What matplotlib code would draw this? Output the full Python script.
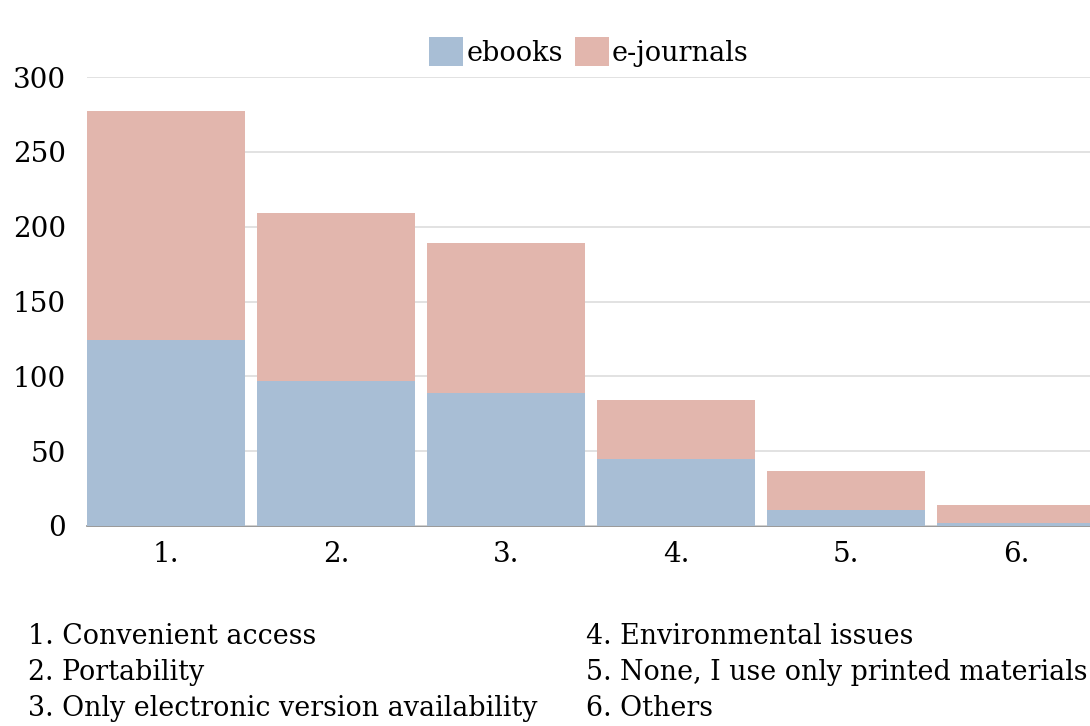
import matplotlib
matplotlib.use('Agg')
import matplotlib.pyplot as plt
import numpy as np

# values
categories = ['1.', '2.', '3.', '4.', '5.', '6.']
ebooks = [124, 97, 89, 45, 11, 2]
ejournals = [153, 112, 100, 39, 26, 12]
yticks = [0, 50, 100, 150, 200, 250, 300]
notes_left = ['1. Convenient access', '2. Portability', '3. Only electronic version availability']
notes_right = ['4. Environmental issues', '5. None, I use only printed materials', '6. Others']

blue = '#a8bed5'
pink = '#e2b6ad'

plt.rcParams['font.family'] = ['DejaVu Serif']

W, H = 1090, 726
fig = plt.figure(figsize=(W / 100, H / 100), dpi=100)
ax = fig.add_axes([87 / W, (H - 526) / H, 1014 / W, 449 / H])

x = np.arange(len(categories))
ax.bar(x, ebooks, width=0.93, color=blue, label='ebooks', zorder=2)
ax.bar(x, ejournals, width=0.93, bottom=ebooks, color=pink, label='e-journals', zorder=2)

ax.set_xlim(-0.465, 5.5)
ax.set_ylim(0, 300)
ax.set_yticks(yticks)
ax.set_xticks(x)
ax.set_xticklabels(categories)
ax.tick_params(axis='both', length=0, labelsize=20)
ax.tick_params(axis='y', pad=15)
ax.tick_params(axis='x', pad=11)
ax.yaxis.grid(True, color='#dddddd', linewidth=1.2, zorder=0)
for s in ['top', 'right', 'left']:
    ax.spines[s].set_visible(False)
ax.spines['bottom'].set_color('#888888')
ax.spines['bottom'].set_linewidth(1.2)
ax.spines['bottom'].set_zorder(1)

fig.legend(loc='center', bbox_to_anchor=(589 / W, (H - 52) / H), ncol=2, frameon=False,
           fontsize=19.5, handlelength=1.25, handleheight=1.25, handletextpad=0.12,
           columnspacing=0.45)

for i, t in enumerate(notes_left):
    fig.text(28 / W, (H - 637 - 36 * i) / H, t, fontsize=19.4, va='center', ha='left')
for i, t in enumerate(notes_right):
    fig.text(586 / W, (H - 637 - 36 * i) / H, t, fontsize=19.4, va='center', ha='left')

fig.savefig('out.png', dpi=100)
